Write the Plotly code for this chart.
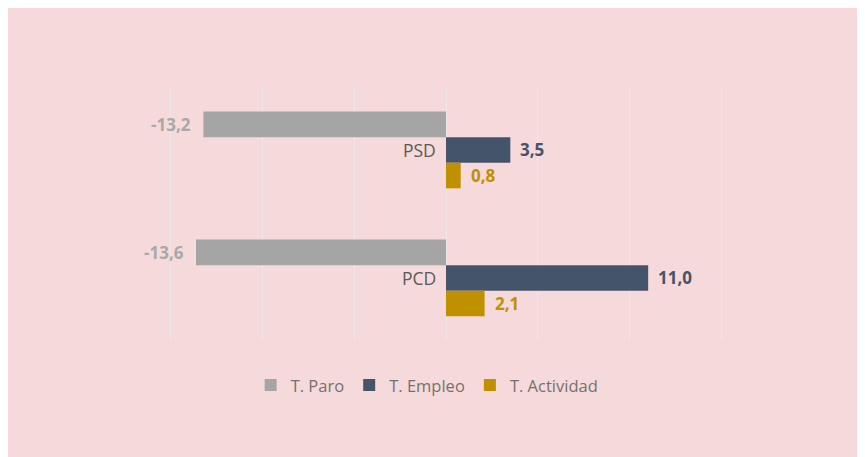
import plotly.graph_objects as go

categories = ["PSD", "PCD"]
series_names = ["T. Paro", "T. Empleo", "T. Actividad"]
paro = [-13.2, -13.6]
empleo = [3.5, 11.0]
actividad = [0.8, 2.1]
colors = ["#A5A5A5", "#44546A", "#BF9000"]
label_colors = ["#A9A9A9", "#44546A", "#BF9000"]

# page body adds an 8px offset; margins compensate for it
W, H = 865, 457
ML, MR, MT, MB = 161, 150, 80, 125

FONT = "Open Sans"
pos = list(range(len(categories)))
values = [paro, empleo, actividad]

fig = go.Figure()
for name, vals, col in zip(series_names, values, colors):
    fig.add_trace(go.Bar(
        y=pos, x=vals, name=name, orientation="h",
        marker=dict(color=col, line=dict(width=0)),
        hoverinfo="skip",
    ))

annotations = []
offsets = [-0.2, 0.0, 0.2]
for vals, lc, off in zip(values, label_colors, offsets):
    for p, v in zip(pos, vals):
        txt = f"{v:.1f}".replace(".", ",")
        annotations.append(dict(
            x=v, y=p + off, xref="x", yref="y", text=f"<b>{txt}</b>",
            showarrow=False, xanchor="right" if v < 0 else "left",
            xshift=-10 if v < 0 else 8, yanchor="middle",
            font=dict(family=FONT, size=17, color=lc),
        ))
for p, c in zip(pos, categories):
    annotations.append(dict(
        x=0, y=p, xref="x", yref="y", text=c, showarrow=False,
        xanchor="right", xshift=-8, yanchor="middle",
        font=dict(family=FONT, size=17.5, color="#595959"),
    ))

fig.update_layout(
    width=W, height=H,
    margin=dict(l=ML, r=MR, t=MT, b=MB),
    paper_bgcolor="#F6D9DA", plot_bgcolor="#F6D9DA",
    barmode="group", bargap=0.4, bargroupgap=0,
    xaxis=dict(range=[-15.07, 15.07], tick0=0, dtick=5, showticklabels=False, showgrid=True,
               gridcolor="#EFE7E7", gridwidth=1.2, zeroline=True, zerolinecolor="#EFE7E7",
               zerolinewidth=1.2, showline=False, fixedrange=True),
    yaxis=dict(range=[1.485, -0.484], showticklabels=False, showgrid=False,
               zeroline=False, showline=False, fixedrange=True),
    legend=dict(orientation="h", x=0.466, xanchor="center", y=-0.18, yanchor="middle",
                font=dict(family=FONT, size=16.5, color="#757171"),
                bgcolor="rgba(0,0,0,0)", itemwidth=30, traceorder="normal"),
    annotations=annotations,
    showlegend=True,
)

fig.write_html("out.html")
